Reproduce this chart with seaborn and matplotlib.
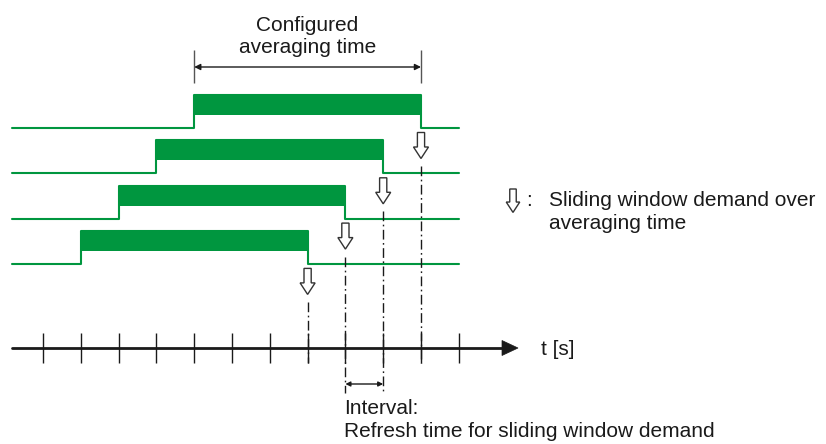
import matplotlib
matplotlib.use("Agg")
import matplotlib.pyplot as plt
import numpy as np
import pandas as pd
import seaborn as sns

# ---------------- data ----------------
rows = ["Window 1", "Window 2", "Window 3", "Window 4"]
rise_ticks = [4, 3, 2, 1]          # start of each averaging window (tick index)
fall_ticks = [10, 9, 8, 7]         # end of each averaging window (tick index)
tick_positions = list(range(12))   # time axis ticks
interval_ticks = [8, 9]            # refresh interval shown below axis
averaging_span = [4, 10]           # configured averaging time bracket

title_lines = ["Configured", "averaging time"]
legend_lines = ["Sliding window demand over", "averaging time"]
interval_lines = ["Interval:", "Refresh time for sliding window demand"]
axis_label = "t [s]"

# ---------------- style ----------------
sns.set_theme(style="white")
plt.rcParams['font.family'] = ['Liberation Sans', 'DejaVu Sans']

GREEN = "#00963f"
INK = "#1a1a1a"
FS = 15

fig = plt.figure(figsize=(8.26, 4.44), dpi=100)
ax = fig.add_axes([0, 0, 1, 1])
X0, DX = 43.0, 37.8   # pixel of t=0, pixels per tick
ax.set_xlim(-X0 / DX, (826 - X0) / DX)
ax.set_ylim(444, 0)
ax.axis('off')

def px(v):
    return v / DX

t_start = px(12 - X0)
t_end = 11

ROW0, ROWSTEP = 128.0, 45.3
BAR_TOP, BAR_BOT = 33.0, 13.0

# step signals
recs = []
for i, (name, r, f) in enumerate(zip(rows, rise_ticks, fall_ticks)):
    base = ROW0 + ROWSTEP * i
    top = base - BAR_TOP
    pts = [(t_start, base), (r, base), (r, top), (f, top), (f, base), (t_end, base)]
    for k, (x, y) in enumerate(pts):
        recs.append(dict(row=name, order=k, t=x, y=y))
df = pd.DataFrame(recs)
sns.lineplot(data=df, x="t", y="y", units="row", estimator=None, sort=False,
             color=GREEN, lw=1.5, ax=ax, legend=False)
for i, (r, f) in enumerate(zip(rise_ticks, fall_ticks)):
    base = ROW0 + ROWSTEP * i
    ax.fill_between([r, f], base - BAR_TOP, base - BAR_BOT, color=GREEN, lw=0)

# hollow arrow
def hollow_arrow(cx, y0, scale=1.0):
    sw, hw, hh, L = 3.6 * scale, 7.5 * scale, 14.5 * scale, 26 * scale
    pts = [(cx - px(sw), y0), (cx + px(sw), y0), (cx + px(sw), y0 + hh),
           (cx + px(hw), y0 + hh), (cx, y0 + L), (cx - px(hw), y0 + hh),
           (cx - px(sw), y0 + hh)]
    ax.add_patch(plt.Polygon(pts, closed=True, facecolor="white",
                             edgecolor="#333333", lw=1.0, zorder=5))

AXIS_Y = 348.0
for i, f in enumerate(fall_ticks):
    base = ROW0 + ROWSTEP * i
    hollow_arrow(f, base + 4.5)
    y_end = 393 if f in interval_ticks else 363
    ax.plot([f, f], [base + 38, y_end], color=INK, lw=1.0,
            dashes=(7, 2.5, 1.2, 2.5))

# time axis
ax.plot([t_start, px(505 - X0)], [AXIS_Y, AXIS_Y], color=INK, lw=2.0)
ax.add_patch(plt.Polygon([(px(502 - X0), AXIS_Y - 7.5), (px(518 - X0), AXIS_Y),
                          (px(502 - X0), AXIS_Y + 7.5)], closed=True,
                         facecolor=INK, edgecolor=INK, lw=0.5))
ax.vlines(tick_positions, AXIS_Y - 15, AXIS_Y + 15, color=INK, lw=1.0)
ax.text(px(541 - X0), AXIS_Y + 1, axis_label, fontsize=FS, color=INK,
        ha="left", va="center")

# configured averaging time bracket
a, b = averaging_span
ax.vlines([a, b], 50, 83, color="#555555", lw=1.0)
ax.annotate("", xy=(b, 67), xytext=(a, 67),
            arrowprops=dict(arrowstyle="<|-|>", color=INK, lw=1.0,
                            mutation_scale=9, shrinkA=0, shrinkB=0))
ax.text((a + b) / 2, 31, title_lines[0], fontsize=FS, color=INK,
        ha="center", va="baseline")
ax.text((a + b) / 2, 53, title_lines[1], fontsize=FS, color=INK,
        ha="center", va="baseline")

# interval bracket
c, d = interval_ticks
ax.annotate("", xy=(d, 384), xytext=(c, 384),
            arrowprops=dict(arrowstyle="<|-|>", color=INK, lw=1.0,
                            mutation_scale=7, shrinkA=0, shrinkB=0))
ax.text(c - px(1), 414, interval_lines[0], fontsize=FS, color=INK,
        ha="left", va="baseline")
ax.text(c - px(1), 437, interval_lines[1], fontsize=FS, color=INK,
        ha="left", va="baseline")

# legend
hollow_arrow(px(513 - X0), 189, scale=0.9)
ax.text(px(526 - X0), 200, ":", fontsize=FS, color=INK, ha="left", va="center")
ax.text(px(549 - X0), 200, legend_lines[0], fontsize=FS, color=INK,
        ha="left", va="center")
ax.text(px(549 - X0), 223, legend_lines[1], fontsize=FS, color=INK,
        ha="left", va="center")

fig.savefig("out.png", dpi=100, facecolor="white")
